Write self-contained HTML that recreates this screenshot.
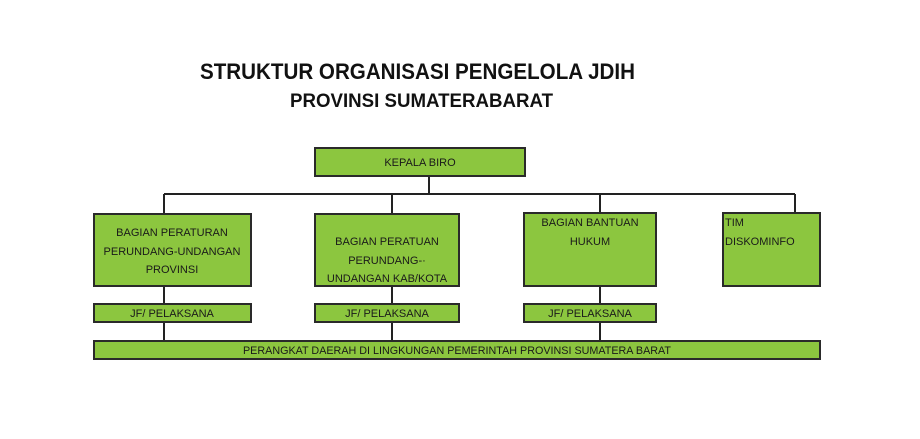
<!DOCTYPE html>
<html><head><meta charset="utf-8"><style>html,body{margin:0;padding:0;background:#fff}svg{display:block}</style></head>
<body>
<svg width="920" height="439" xmlns="http://www.w3.org/2000/svg" font-family="Liberation Sans, sans-serif" font-weight="bold">
<rect width="920" height="439" fill="#fff"/>
<text x="200" y="79" font-size="22" textLength="435" lengthAdjust="spacingAndGlyphs" fill="#111">STRUKTUR ORGANISASI PENGELOLA JDIH</text>
<text x="290" y="107" font-size="19" textLength="263" lengthAdjust="spacingAndGlyphs" fill="#111">PROVINSI SUMATERABARAT</text>
<g stroke="#222" stroke-width="2" fill="none">
<line x1="429" y1="176" x2="429" y2="194"/>
<line x1="164" y1="194" x2="795" y2="194"/>
<line x1="164" y1="194" x2="164" y2="214"/>
<line x1="392" y1="194" x2="392" y2="214"/>
<line x1="600" y1="194" x2="600" y2="213"/>
<line x1="795" y1="194" x2="795" y2="213"/>
<line x1="164" y1="286" x2="164" y2="341"/>
<line x1="392" y1="286" x2="392" y2="341"/>
<line x1="600" y1="286" x2="600" y2="341"/>
</g>
<g fill="#8cc63f" stroke="#2a2a2a" stroke-width="2">
<rect x="315" y="148" width="210" height="28"/>
<rect x="94" y="214" width="157" height="72"/>
<rect x="315" y="214" width="144" height="72"/>
<rect x="524" y="213" width="132" height="73"/>
<rect x="723" y="213" width="97" height="73"/>
<rect x="94" y="304" width="157" height="18"/>
<rect x="315" y="304" width="144" height="18"/>
<rect x="524" y="304" width="132" height="18"/>
<rect x="94" y="341" width="726" height="18"/>
</g>
<g font-size="11" fill="#1a1a1a" font-weight="normal" text-anchor="middle">
<text x="420" y="166">KEPALA BIRO</text>
<text x="172" y="236">BAGIAN PERATURAN</text>
<text x="172" y="255">PERUNDANG-UNDANGAN</text>
<text x="172" y="273">PROVINSI</text>
<text x="387" y="245">BAGIAN PERATUAN</text>
<text x="387" y="264">PERUNDANG-·</text>
<text x="387" y="282">UNDANGAN KAB/KOTA</text>
<text x="590" y="226">BAGIAN BANTUAN</text>
<text x="590" y="245">HUKUM</text>
<text x="172" y="317">JF/ PELAKSANA</text>
<text x="387" y="317">JF/ PELAKSANA</text>
<text x="590" y="317">JF/ PELAKSANA</text>
<text x="457" y="354" textLength="428" lengthAdjust="spacingAndGlyphs">PERANGKAT DAERAH DI LINGKUNGAN PEMERINTAH PROVINSI SUMATERA BARAT</text>
</g>
<g font-size="11" fill="#1a1a1a" font-weight="normal">
<text x="725" y="226">TIM</text>
<text x="725" y="245">DISKOMINFO</text>
</g>
</svg>
</body></html>
